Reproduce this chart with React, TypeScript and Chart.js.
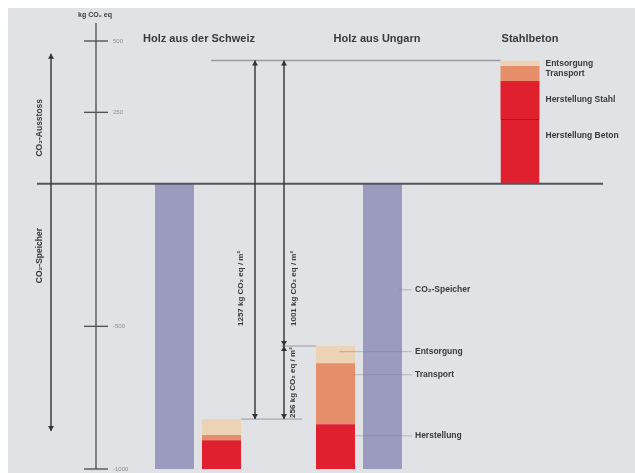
import { useEffect, useRef } from "react";
import { Chart, registerables } from "chart.js";
import type { Plugin } from "chart.js";

Chart.register(...registerables);

// kg CO2 eq / m2
const categories = ["Holz aus der Schweiz", "Holz aus Ungarn", "Stahlbeton"];
const storageSchweiz = [-1000, null, null];
const storageUngarn = [null, -1000, null];
// emission stacks start at the bottom of the wood storage bars
const stackBase = [-1000, -1000, 0];
const herstellungBeton = [null, null, 227];
const herstellungStahl = [null, null, 133];
const herstellungHolz = [101, 157, null];
const transport = [18, 214, 52];
const entsorgung = [56, 60, 20];
const yTicks = [500, 250, -500, -1000];
const diffLabels = ["1257 kg CO₂ eq / m²", "1001 kg CO₂ eq / m²", "256 kg CO₂ eq / m²"];

const PURPLE = "#9b9bbf";
const RED = "#e0202f";
const ORANGE = "#e68d69";
const BEIGE = "#ecd3b5";
const DARK = "#3a3a3c";
const FONT = "'Liberation Sans', Arial, sans-serif";

const segments = [
  { label: "Herstellung Beton", values: herstellungBeton, color: RED },
  { label: "Herstellung Stahl", values: herstellungStahl, color: RED },
  { label: "Herstellung", values: herstellungHolz, color: RED },
  { label: "Transport", values: transport, color: ORANGE },
  { label: "Entsorgung", values: entsorgung, color: BEIGE },
];

const arrowHead = (ctx: CanvasRenderingContext2D, x: number, y: number, dir: number) => {
  ctx.beginPath();
  ctx.moveTo(x, y);
  ctx.lineTo(x - 3, y - dir * 5);
  ctx.lineTo(x + 3, y - dir * 5);
  ctx.closePath();
  ctx.fill();
};

const vArrow = (ctx: CanvasRenderingContext2D, x: number, y1: number, y2: number, up = true, down = true) => {
  ctx.beginPath();
  ctx.moveTo(x, y1);
  ctx.lineTo(x, y2);
  ctx.stroke();
  if (up) arrowHead(ctx, x, y1, -1);
  if (down) arrowHead(ctx, x, y2, 1);
};

const vText = (ctx: CanvasRenderingContext2D, text: string, x: number, y: number, align: CanvasTextAlign) => {
  ctx.save();
  ctx.translate(x, y);
  ctx.rotate(-Math.PI / 2);
  ctx.textAlign = align;
  ctx.textBaseline = "middle";
  ctx.fillText(text, 0, 0);
  ctx.restore();
};

const hLine = (ctx: CanvasRenderingContext2D, x1: number, x2: number, y: number) => {
  ctx.beginPath();
  ctx.moveTo(x1, y);
  ctx.lineTo(x2, y);
  ctx.stroke();
};

const decorations: Plugin<"bar"> = {
  id: "decorations",
  afterDatasetsDraw(chart) {
    const ctx = chart.ctx;
    const area = chart.chartArea;
    const y = chart.scales.y;
    const x = chart.scales.x;
    const bar = (ds: number, i: number) => {
      const el = chart.getDatasetMeta(ds).data[i] as any;
      return {
        left: el.x - el.width / 2,
        right: el.x + el.width / 2,
        cx: el.x,
        top: Math.min(el.y, el.base),
        bottom: Math.max(el.y, el.base),
      };
    };
    const zeroY = y.getPixelForValue(0);
    const axisX = area.left - 21.5;

    ctx.save();
    // zero line
    ctx.strokeStyle = "#555559";
    ctx.lineWidth = 2;
    hLine(ctx, area.left - 80.5, area.right + 2.5, zeroY);

    // y axis
    ctx.lineWidth = 1.4;
    ctx.beginPath();
    ctx.moveTo(axisX, area.top - 18);
    ctx.lineTo(axisX, area.bottom);
    ctx.stroke();
    ctx.font = `6px ${FONT}`;
    ctx.fillStyle = "#8e8e92";
    ctx.textAlign = "left";
    ctx.textBaseline = "middle";
    yTicks.forEach((v) => {
      const py = y.getPixelForValue(v);
      hLine(ctx, axisX - 12, axisX + 12, py);
      ctx.fillText(String(v), axisX + 17, py);
    });
    ctx.fillStyle = DARK;
    ctx.font = `bold 7px ${FONT}`;
    ctx.textAlign = "center";
    ctx.fillText("kg CO₂ eq", axisX - 1, area.top - 26);

    // left arrow with rotated labels
    ctx.strokeStyle = "#333336";
    ctx.fillStyle = "#333336";
    ctx.lineWidth = 1.4;
    vArrow(ctx, area.left - 66.5, y.getPixelForValue(455), y.getPixelForValue(-867));
    ctx.font = `bold 8.5px ${FONT}`;
    ctx.fillStyle = DARK;
    vText(ctx, "CO₂-Ausstoss", area.left - 78, y.getPixelForValue(196), "center");
    vText(ctx, "CO₂-Speicher", area.left - 78, y.getPixelForValue(-252), "center");

    // titles
    ctx.font = `bold 11px ${FONT}`;
    ctx.textAlign = "center";
    ctx.textBaseline = "middle";
    const titleDx = [1, 18, 10];
    categories.forEach((c, i) => {
      ctx.fillText(c, x.getPixelForValue(i) + titleDx[i], area.top - 2);
    });

    // difference arrows
    const schweiz = bar(5, 0);
    const ungarn = bar(5, 1);
    const stahl = bar(5, 2);
    const a1 = schweiz.right + 14;
    const a2 = ungarn.left - 32;
    ctx.strokeStyle = "#9c9ca0";
    ctx.lineWidth = 1.5;
    hLine(ctx, a1 - 44, stahl.left, stahl.top);
    ctx.lineWidth = 1;
    hLine(ctx, schweiz.right, a2 + 18, schweiz.top);
    hLine(ctx, a2 - 3, ungarn.left, ungarn.top);

    ctx.strokeStyle = "#333336";
    ctx.fillStyle = "#333336";
    ctx.lineWidth = 1.4;
    vArrow(ctx, a1, stahl.top, schweiz.top);
    vArrow(ctx, a2, stahl.top, ungarn.top);
    vArrow(ctx, a2, ungarn.top, schweiz.top);
    ctx.font = `bold 8px ${FONT}`;
    ctx.fillStyle = DARK;
    vText(ctx, diffLabels[0], a1 - 14, ungarn.top - 20, "left");
    vText(ctx, diffLabels[1], a2 + 10, ungarn.top - 20, "left");
    vText(ctx, diffLabels[2], a2 + 9, (ungarn.top + schweiz.top) / 2, "center");

    // Stahlbeton labels
    ctx.font = `bold 8.5px ${FONT}`;
    ctx.textAlign = "left";
    const stahlLabels: [number, string, number][] = [
      [5, "Entsorgung", 0.5],
      [4, "Transport", 0.5],
      [2, "Herstellung Stahl", 0.5],
      [1, "Herstellung Beton", 0.26],
    ];
    stahlLabels.forEach(([ds, text, f]) => {
      const b = bar(ds, 2);
      ctx.fillText(text, b.right + 6, b.top + (b.bottom - b.top) * f);
    });

    // Ungarn labels with leader lines
    const purple = bar(6, 1);
    const lx = purple.right + 13;
    const ungarnLabels: [number, string, number, number][] = [
      [6, "CO₂-Speicher", 0.372, purple.right - 3],
      [5, "Entsorgung", 0.33, ungarn.cx + 4],
      [4, "Transport", 0.19, ungarn.right - 2],
      [3, "Herstellung", 0.26, ungarn.right - 2],
    ];
    ungarnLabels.forEach(([ds, text, f, from]) => {
      const b = bar(ds, 1);
      const py = b.top + (b.bottom - b.top) * f;
      ctx.strokeStyle = "rgba(120,120,130,0.55)";
      ctx.lineWidth = 0.8;
      hLine(ctx, from, lx - 3, py);
      ctx.fillText(text, lx, py);
    });
    ctx.restore();
  },
};

const App = () => {
  const canvasRef = useRef<HTMLCanvasElement | null>(null);
  const chartRef = useRef<Chart | null>(null);

  useEffect(() => {
    if (!canvasRef.current) return;
    if (chartRef.current) chartRef.current.destroy();

    const running = [...stackBase];
    const segDatasets = segments.map((s) => ({
      label: s.label,
      stack: "mix",
      backgroundColor: s.color,
      borderColor: "#a8141f",
      borderWidth: s.label === "Herstellung Beton" ? { top: 1, bottom: 0, left: 0, right: 0 } : 0,
      borderSkipped: false as const,
      data: s.values.map((v, i) => {
        if (v == null) return null;
        const r = [running[i], running[i] + v];
        running[i] += v;
        return r;
      }),
    }));

    chartRef.current = new Chart(canvasRef.current, {
      type: "bar",
      data: {
        labels: categories,
        datasets: [
          { label: "CO₂-Speicher", stack: "left", backgroundColor: PURPLE, data: storageSchweiz },
          ...segDatasets,
          { label: "CO₂-Speicher", stack: "right", backgroundColor: PURPLE, data: storageUngarn },
        ] as any,
      },
      options: {
        animation: false,
        responsive: true,
        maintainAspectRatio: false,
        events: [],
        skipNull: true,
        categoryPercentage: 94 / 161,
        barPercentage: 1,
        maxBarThickness: 39,
        layout: { padding: { left: 109.5, right: 34.5, top: 33, bottom: 4 } },
        plugins: { legend: { display: false }, tooltip: { enabled: false } },
        scales: {
          x: { display: false, stacked: true },
          y: { display: false, stacked: false, min: -1000, max: 500 },
        },
      } as any,
      plugins: [decorations],
    });

    return () => {
      if (chartRef.current) {
        chartRef.current.destroy();
        chartRef.current = null;
      }
    };
  }, []);

  return (
    <div
      style={{
        position: "fixed",
        left: 8,
        top: 8,
        width: 627,
        height: 465,
        background: "#e1e2e6",
      }}
    >
      <canvas ref={canvasRef} />
    </div>
  );
};

export default App;
